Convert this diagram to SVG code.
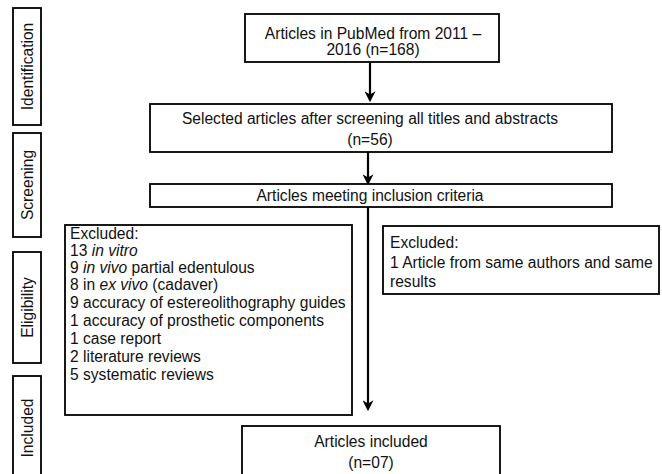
<svg xmlns="http://www.w3.org/2000/svg" width="662" height="474" viewBox="0 0 662 474">
<style>
.box{fill:#fff;stroke:#000;stroke-width:1.8}
.t{font-family:"Liberation Sans","Open Sans",sans-serif;font-size:15.6px;fill:#111}
.c{text-anchor:middle}
.conn{stroke:#000;stroke-width:2.2;fill:none;marker-end:url(#ah)}
</style>
<defs>
<marker id="ah" viewBox="0 0 10 10" refX="8" refY="5" markerWidth="5" markerHeight="5" orient="auto" markerUnits="strokeWidth">
<path d="M0,0 L10,5 L0,10 L3,5 Z" fill="#000"/>
</marker>
</defs>
<rect width="662" height="474" fill="#fff"/>
<g id="stage-identification"><rect class="box" x="13" y="8" width="28" height="117"/><text class="t c" transform="translate(32.5,66.5) rotate(-90)">Identification</text></g>
<g id="stage-screening"><rect class="box" x="13" y="133" width="28" height="104"/><text class="t c" transform="translate(32.5,185) rotate(-90)">Screening</text></g>
<g id="stage-eligibility"><rect class="box" x="13" y="252" width="28" height="111"/><text class="t c" transform="translate(32.5,307.5) rotate(-90)">Eligibility</text></g>
<g id="stage-included"><rect class="box" x="13" y="376" width="28" height="112"/><text class="t c" transform="translate(32.5,428) rotate(-90)">Included</text></g>
<g id="connectors">
<line class="conn" x1="370" y1="63" x2="370" y2="100"/>
<line class="conn" x1="368" y1="152" x2="368" y2="183"/>
<line class="conn" x1="368" y1="207" x2="368" y2="409"/>
</g>
<g id="n-pubmed"><rect class="box" x="245" y="14" width="254" height="48"/>
<text class="t c" x="373" y="39">Articles in PubMed from  2011 –</text>
<text class="t c" x="373" y="55">2016  (n=168)</text></g>
<g id="n-selected"><rect class="box" x="150" y="104" width="462" height="48"/>
<text class="t c" x="370" y="124">Selected articles after screening all titles and abstracts</text>
<text class="t c" x="370" y="145">(n=56)</text></g>
<g id="n-meeting"><rect class="box" x="150" y="184" width="462" height="23"/>
<text class="t c" x="370" y="201">Articles meeting inclusion criteria</text></g>
<g id="n-excluded-left"><rect class="box" x="65" y="225" width="287" height="190"/>
<text class="t" x="70" y="239">Excluded:</text>
<text class="t" x="70" y="256">13 <tspan font-style="italic">in vitro</tspan></text>
<text class="t" x="70" y="273">9 <tspan font-style="italic">in vivo</tspan> partial edentulous</text>
<text class="t" x="70" y="290">8 in <tspan font-style="italic">ex vivo</tspan> (cadaver)</text>
<text class="t" x="70" y="308">9 accuracy of estereolithography guides</text>
<text class="t" x="70" y="326">1 accuracy of prosthetic components</text>
<text class="t" x="70" y="344">1 case report</text>
<text class="t" x="70" y="362">2 literature reviews</text>
<text class="t" x="70" y="380">5 systematic reviews</text></g>
<g id="n-excluded-right"><rect class="box" x="383" y="226" width="276" height="68"/>
<text class="t" x="390" y="248">Excluded:</text>
<text class="t" x="390" y="268">1 Article from same authors and same</text>
<text class="t" x="390" y="287">results</text></g>
<g id="n-included"><rect class="box" x="242" y="426" width="258" height="60"/>
<text class="t c" x="371" y="447">Articles included</text>
<text class="t c" x="371" y="468">(n=07)</text></g>
</svg>
